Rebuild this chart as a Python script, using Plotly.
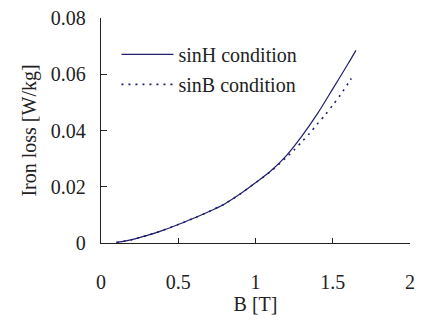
import plotly.graph_objects as go

# Data
b_sinH = [0.1, 0.2, 0.3, 0.4, 0.5, 0.6, 0.7, 0.8, 0.9, 1.0, 1.1, 1.2, 1.3, 1.4, 1.5, 1.6, 1.65]
loss_sinH = [0.0002, 0.0012, 0.0027, 0.0045, 0.0066, 0.0088, 0.0112, 0.0139, 0.0174, 0.0214,
             0.0257, 0.0311, 0.0380, 0.0459, 0.0548, 0.0638, 0.0685]

b_sinB = [0.1, 0.2, 0.3, 0.4, 0.5, 0.6, 0.7, 0.8, 0.9, 1.0, 1.1, 1.2, 1.25, 1.3, 1.35,
          1.4, 1.45, 1.5, 1.55, 1.6, 1.62]
loss_sinB = [0.0002, 0.0012, 0.0027, 0.0045, 0.0066, 0.0088, 0.0112, 0.0139, 0.0174, 0.0214,
             0.0255, 0.0305, 0.0331, 0.0360, 0.0390, 0.0423, 0.0455, 0.0490, 0.0527, 0.0568, 0.0585]

x_ticks = [0, 0.5, 1, 1.5, 2]
y_ticks = [0, 0.02, 0.04, 0.06, 0.08]

navy = "#1f1f6e"
font_family = "Liberation Serif"

fig = go.Figure()
fig.add_trace(go.Scatter(x=b_sinH, y=loss_sinH, mode="lines", name="sinH condition",
                         legendgroup="a",
                         line=dict(color=navy, width=1.2, shape="spline", smoothing=0.8)))
fig.add_trace(go.Scatter(x=b_sinB, y=loss_sinB, mode="lines", name="sinB condition",
                         legendgroup="b",
                         line=dict(color=navy, width=1.6, dash="2px,5px", shape="spline", smoothing=0.8)))

fig.update_layout(
    width=422, height=324,
    margin=dict(l=101, r=7, t=17, b=81),
    paper_bgcolor="white", plot_bgcolor="white",
    font=dict(family=font_family, size=20, color="#222222"),
    showlegend=True,
    legend=dict(x=0.05, y=0.925, xanchor="left", yanchor="top",
                bgcolor="rgba(0,0,0,0)", itemwidth=52,
                font=dict(family=font_family, size=20, color="#222222"),
                tracegroupgap=1),
)
fig.update_xaxes(
    range=[0, 2], tickvals=x_ticks, ticktext=["0", "0.5", "1", "1.5", "2"],
    showline=True, linecolor="#222222", linewidth=1.3, mirror=False,
    ticks="inside", ticklen=5, tickcolor="#222222", tickwidth=1.3,
    showgrid=False, zeroline=False, ticklabelstandoff=21,
    title=dict(text="B [T]", standoff=4, font=dict(size=20)),
)
fig.update_yaxes(
    range=[0, 0.08], tickvals=y_ticks, ticktext=["0", "0.02", "0.04", "0.06", "0.08"],
    showline=True, linecolor="#222222", linewidth=1.3, mirror=False,
    ticks="inside", ticklen=6, tickcolor="#222222", tickwidth=1.3,
    showgrid=False, zeroline=False, ticklabelstandoff=10,
    title=dict(text="Iron loss [W/kg]", standoff=8, font=dict(size=20)),
)

fig.write_html("out.html")
